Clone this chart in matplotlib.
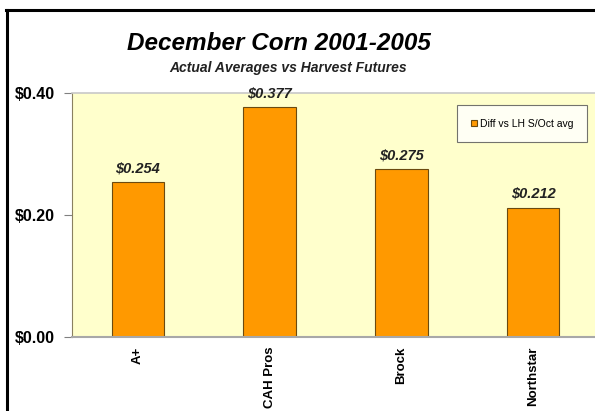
import numpy as np
import matplotlib
matplotlib.use('Agg')
from matplotlib import pyplot as plt
from matplotlib.lines import Line2D

# chart data
companies = ['A+', 'CAH Pros', 'Brock', 'Northstar']
diff_vals = [0.254, 0.377, 0.275, 0.212]
series_name = 'Diff vs LH S/Oct avg'
yticks = [0.0, 0.2, 0.4]

plt.rcParams['font.family'] = ['Liberation Sans', 'DejaVu Sans']

W, H = 595, 411
fig = plt.figure(figsize=(W/100, H/100), dpi=100)
fig.patch.set_facecolor('white')

# axes placed to match the original plot area (pixels)
ax = fig.add_axes([72/W, (H-337)/H, (599-72)/W, (337-93)/H])
ax.set_facecolor('#FFFFCC')

x = np.arange(len(companies))
bars = ax.bar(x, diff_vals, width=0.4, color='#FF9900', edgecolor='#6B4A10',
              linewidth=0.8, label=series_name, zorder=2)

for xi, v in zip(x, diff_vals):
    ax.text(xi, v + 0.011, '$%.3f' % v, ha='center', va='bottom',
            fontsize=10.5, fontweight='bold', style='italic', color='#222222')

ax.set_xlim(-0.5, 3.5)
ax.set_ylim(0, 0.4)
ax.set_yticks(yticks)
ax.set_yticklabels(['$%.2f' % t for t in yticks], fontsize=11.5, fontweight='bold')
ax.set_xticks(x)
ax.set_xticklabels(companies, rotation=90, fontsize=9.5, fontweight='bold')
ax.tick_params(axis='y', length=6, width=0.8, color='#808080', pad=6)
ax.tick_params(axis='x', length=0, pad=7)

ax.spines['left'].set_color('#8A8060')
ax.spines['left'].set_linewidth(0.8)
ax.spines['bottom'].set_color('#A8A8A8')
ax.spines['bottom'].set_linewidth(1.5)
ax.spines['top'].set_color('#C8C8C8')
ax.spines['top'].set_linewidth(1.2)
ax.spines['right'].set_visible(False)

leg = ax.legend(loc='upper left', bbox_to_anchor=((457-72)/(599-72), 1-(105-93)/(337-93)),
                fontsize=7.5, frameon=True, fancybox=False, handlelength=0.6,
                handleheight=0.6, borderpad=1.3, handletextpad=0.3,
                borderaxespad=0)
leg.get_frame().set_edgecolor('#505050')
leg.get_frame().set_linewidth(0.8)
leg.get_frame().set_facecolor('white')

fig.text(279/W, 1-44/H, 'December Corn 2001-2005', ha='center', va='center',
         fontsize=17.5, fontweight='bold', style='italic')
fig.text(288/W, 1-68/H, 'Actual Averages vs Harvest Futures', ha='center',
         va='center', fontsize=10, fontweight='bold', style='italic', color='#222222')

# outer chart border (left and top visible in the crop)
fig.add_artist(Line2D([7/W, 7/W], [0, 1-10/H], color='black', linewidth=2.2,
                      transform=fig.transFigure))
fig.add_artist(Line2D([6/W, 1], [1-10/H, 1-10/H], color='black', linewidth=2.2,
                      transform=fig.transFigure))

fig.savefig('out.png', dpi=100)
